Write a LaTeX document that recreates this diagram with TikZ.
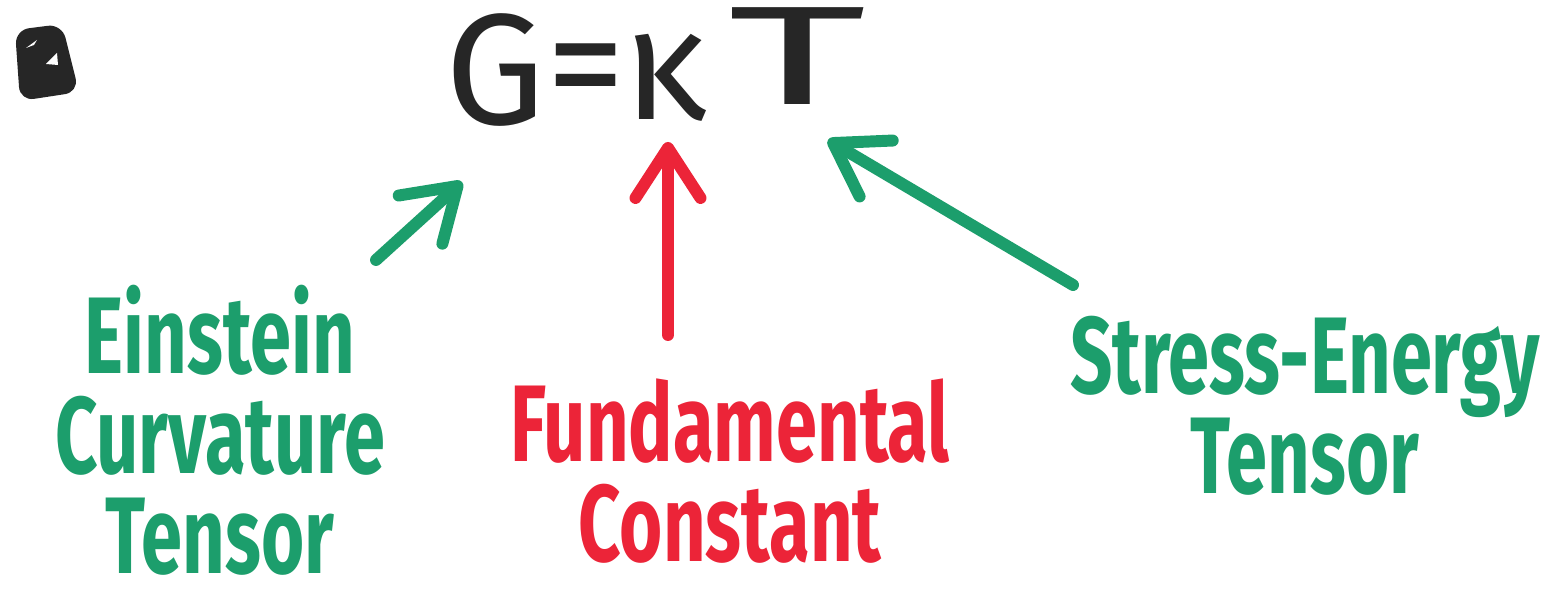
\documentclass[tikz,border=0pt]{standalone}
\usepackage{fontspec}
\setmainfont{Fira Sans}
\newfontfamily\handfont[FakeStretch=0.68]{Fira Sans}
\newfontfamily\widefont[FakeStretch=1.9]{Fira Sans}
\usetikzlibrary{arrows.meta,positioning}
\definecolor{inkgreen}{RGB}{28,158,108}
\definecolor{inkred}{RGB}{236,36,56}
\definecolor{inkblack}{RGB}{38,38,38}

\begin{document}
\begin{tikzpicture}[x=0.1mm,y=-0.1mm,
    eq/.style={inner sep=0pt,anchor=base,text=inkblack,font=\fontsize{45}{50}\selectfont},
    lbl/.style={inner sep=0pt,anchor=north,align=center,font=\handfont\bfseries\fontsize{31}{28.5}\selectfont},
    arrow/.style={-{Straight Barb[length=5mm,width=6.5mm,round]},line width=3.4pt,line cap=round}]
  \useasboundingbox[fill=white] (0,0) rectangle (1542,600);
  % badge
  \fill[inkblack,rounded corners=4pt] (15,30) -- (62,24) -- (79,92) -- (20,101) -- cycle;
  \fill[white] (26,48) -- (37,40) -- (34,45) -- cycle;
  \fill[white] (46,64) -- (57,53) -- (58,65) -- cycle;
  % equation
  \node[eq] (G) at (495,125) {G};
  \node[eq] (eqsign) at (586,118) {=};
  \node[eq] (kappa) at (665,120) {κ};
  \node[eq,font=\widefont\fontsize{40}{44}\selectfont] (T) at (798,105) {T};
  % labels
  \node[lbl,text=inkgreen] (einstein) at (220,284) {Einstein\\Curvature\\Tensor};
  \node[lbl,text=inkred] (fund) at (730,378) {Fundamental\\Constant};
  \node[lbl,text=inkgreen] (stress) at (1305,315) {Stress-Energy\\Tensor};
  % arrows
  \draw[arrow,inkgreen] ([shift={(156,-24)}]einstein.north) -- ([shift={(-33,57)}]G.base);
  \draw[arrow,inkred] ([shift={(-62,-43)}]fund.north) -- ([shift={(3,22)}]kappa.base);
  \draw[arrow,inkgreen] ([shift={(-232,-30)}]stress.north) -- ([shift={(30,35)}]T.base);
\end{tikzpicture}
\end{document}
